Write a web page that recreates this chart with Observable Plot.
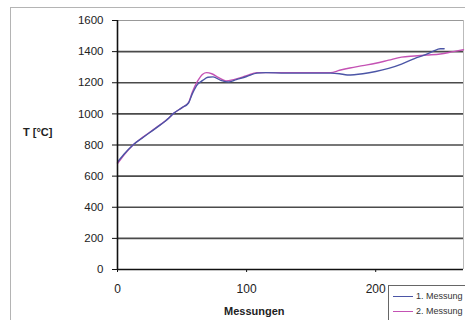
<!DOCTYPE html>
<html>
<head>
<meta charset="utf-8">
<script src="https://cdn.jsdelivr.net/npm/d3@7"></script>
<script src="https://cdn.jsdelivr.net/npm/@observablehq/plot@0.6"></script>
<style>
  html, body { margin: 0; padding: 0; background: #fff; }
  #wrap { position: relative; width: 465px; height: 320px; overflow: hidden; font-family: "Liberation Sans", Arial, sans-serif; }
  #frame { position: absolute; left: 10px; top: 7px; width: 470px; height: 330px; border: 1px solid #b4b4b4; box-sizing: border-box; }
  .lab { position: absolute; font-weight: bold; font-size: 11px; color: #222; }
  #legend { position: absolute; left: 388px; top: 285px; width: 90px; height: 40px; border: 1px solid #666; background: #fff; font-size: 9px; color: #333; }
  .row { position: absolute; left: 4px; display: flex; align-items: center; }
  .sw { width: 20px; height: 0; border-top: 1.5px solid; margin-right: 3px; }
</style>
</head>
<body>
<div id="wrap">
  <div id="frame"></div>
  <div id="chart" style="position:absolute;left:0;top:0;"></div>
  <div class="lab" style="left:23px;top:126px;">T [°C]</div>
  <div class="lab" style="left:224px;top:305px;">Messungen</div>
  <div id="legend"></div>
</div>
<script>
const seriesNames = ["1. Messung", "2. Messung"];
const seriesColors = ["#4b55a6", "#c452b4"];

const m1x = [0, 5, 12, 20, 30, 40, 43, 50, 55, 58, 62, 66, 70, 74, 80, 86, 92, 100, 108, 115, 130, 150, 165, 172, 178, 190, 200, 210, 220, 230, 240, 245, 250, 253];
const m1y = [690, 740, 800, 850, 910, 975, 1000, 1040, 1070, 1130, 1190, 1215, 1235, 1238, 1215, 1205, 1220, 1240, 1262, 1265, 1262, 1262, 1262, 1258, 1250, 1258, 1272, 1292, 1320, 1355, 1385, 1405, 1418, 1418];

const m2x = [0, 5, 12, 20, 30, 40, 43, 50, 55, 58, 62, 66, 69, 73, 78, 84, 90, 100, 108, 115, 165, 172, 180, 190, 200, 210, 220, 230, 240, 250, 260, 268];
const m2y = [680, 735, 800, 852, 912, 975, 1000, 1040, 1072, 1140, 1210, 1255, 1265, 1258, 1235, 1212, 1220, 1245, 1265, 1265, 1265, 1280, 1295, 1310, 1325, 1345, 1365, 1372, 1378, 1385, 1400, 1412];

const yTicks = [0, 200, 400, 600, 800, 1000, 1200, 1400, 1600];
const xTicks = [0, 100, 200];
const gridValues = [200, 400, 600, 800, 1000, 1200, 1400];

const data = [
  ...m1x.map((x, i) => ({x, y: m1y[i], s: seriesNames[0]})),
  ...m2x.map((x, i) => ({x, y: m2y[i], s: seriesNames[1]}))
];

const chart = Plot.plot({
  width: 465,
  height: 320,
  marginLeft: 117,
  marginRight: 2,
  marginTop: 20,
  marginBottom: 51,
  style: {fontFamily: "Liberation Sans, Arial, sans-serif", fontSize: "11px", background: "transparent", color: "#222"},
  x: {domain: [0, 268], ticks: xTicks, label: null},
  y: {domain: [0, 1600], ticks: yTicks, label: null},
  color: {domain: seriesNames, range: seriesColors},
  marks: [
    Plot.ruleY(gridValues, {stroke: "#4a4a4a", strokeWidth: 1.6}),
    Plot.ruleY([1600], {stroke: "#999", strokeWidth: 1.2}),
    Plot.ruleX([268], {stroke: "#bbb", strokeWidth: 1}),
    Plot.line(data.filter(d => d.s === seriesNames[1]), {x: "x", y: "y", stroke: "s", strokeWidth: 1.4, curve: "monotone-x"}),
    Plot.line(data.filter(d => d.s === seriesNames[0]), {x: "x", y: "y", stroke: "s", strokeWidth: 1.4, curve: "monotone-x"}),
    Plot.ruleY([0], {stroke: "#111", strokeWidth: 1.6}),
    Plot.ruleX([0], {stroke: "#111", strokeWidth: 1.6}),
    Plot.axisY({ticks: yTicks, tickFormat: d => String(d), tickSize: 5, tickPadding: 9, stroke: "#111", fontSize: 11.5, label: null}),
    Plot.axisX({ticks: xTicks, tickFormat: d => String(d), tickSize: 3, tickPadding: 12, stroke: "#111", fontSize: 12, label: null})
  ]
});
document.getElementById("chart").appendChild(chart);

const legend = document.getElementById("legend");
seriesNames.forEach((name, i) => {
  const row = document.createElement("div");
  row.className = "row";
  row.style.top = (5 + i * 15) + "px";
  const sw = document.createElement("div");
  sw.className = "sw";
  sw.style.borderTopColor = seriesColors[i];
  const t = document.createElement("span");
  t.textContent = name;
  row.appendChild(sw);
  row.appendChild(t);
  legend.appendChild(row);
});
</script>
</body>
</html>
